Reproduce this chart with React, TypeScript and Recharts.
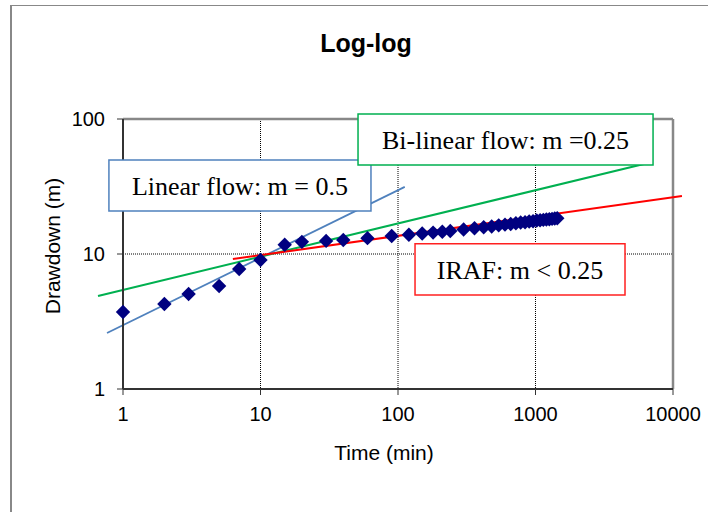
import { ComposedChart, Scatter, XAxis, YAxis, CartesianGrid, ReferenceLine, ReferenceArea } from 'recharts';

// Pumping test drawdown data (time in minutes, drawdown in metres)
const times = [1, 2, 3, 5, 7, 10, 15, 20, 30, 40, 60, 90,
  120, 150, 180, 210, 240, 300, 360, 420, 480, 540, 600, 660, 720, 780, 840, 900, 960, 1020, 1080, 1140, 1200, 1260, 1320, 1380, 1440];
const drawdowns = [3.72, 4.26, 5.05, 5.79, 7.74, 9.03, 11.7, 12.3, 12.5, 12.7, 13.1, 13.6,
  13.9, 14.2, 14.4, 14.6, 14.8, 15.2, 15.5, 15.8, 16.0, 16.3, 16.5, 16.7, 16.9, 17.1, 17.2, 17.4, 17.5, 17.7, 17.8, 17.9, 18.0, 18.1, 18.2, 18.3, 18.4];

const timeTicks = [1, 10, 100, 1000, 10000];
const drawdownTicks = [1, 10, 100];

// hand-drawn slope lines: [start, end] as (time, drawdown)
const linearLine = [{ x: 0.765, y: 2.6 }, { x: 112, y: 31.4 }];
const bilinearLine = [{ x: 0.658, y: 4.89 }, { x: 6580, y: 47.2 }];
const irafLine = [{ x: 6.3, y: 9.18 }, { x: 11620, y: 26.9 }];

const noteLabels = ['Linear flow: m = 0.5', 'Bi-linear flow: m =0.25', 'IRAF: m < 0.25'];
const noteColors = ['#4F81BD', '#00B050', '#FF2020'];
// box extents in data units: [t1, t2, s1, s2]
const noteBoxes = [[0.79, 63.6, 20.8, 49.7], [51.2, 7160, 45.6, 108.9], [133, 4477, 4.97, 11.9]];

const points = times.map((t, i) => ({ t, s: drawdowns[i] }));

const Diamond = (props: any) => {
  const { cx, cy } = props;
  const r = 7.2;
  return <polygon points={`${cx},${cy - r} ${cx + r},${cy} ${cx},${cy + r} ${cx - r},${cy}`} fill="#000080" />;
};

const sans = '"Liberation Sans", Arial, sans-serif';
const serif = '"Liberation Serif", "Times New Roman", serif';

export default function App() {
  return (
    <div style={{ position: 'absolute', left: 0, top: 0, width: 708, height: 512, overflow: 'hidden', background: '#fff', fontFamily: sans }}>
      <div style={{ position: 'absolute', left: 10, top: 5, width: 720, height: 520, borderLeft: '2px solid #888', borderTop: '1px solid #888' }} />
      <div style={{ position: 'absolute', left: 266, top: 29, width: 200, textAlign: 'center', fontSize: 25, fontWeight: 'bold', lineHeight: 'normal' }}>Log-log</div>
      <div style={{ position: 'absolute', left: 284, top: 441, width: 200, textAlign: 'center', fontSize: 21, lineHeight: 'normal' }}>Time (min)</div>
      <div style={{ position: 'absolute', left: -47, top: 234, width: 200, textAlign: 'center', fontSize: 21, lineHeight: 'normal', transform: 'rotate(-90deg)' }}>Drawdown (m)</div>
      <ComposedChart width={708} height={512} data={points} margin={{ top: 119, right: 35, bottom: 43, left: 23 }} style={{ position: 'absolute', left: 0, top: 0 }}>
        <CartesianGrid stroke="#000" strokeDasharray="1 1" />
        <XAxis dataKey="t" type="number" scale="log" domain={[1, 10000]} ticks={timeTicks} height={80}
          tick={{ fontSize: 20, fill: '#000', fontFamily: sans }} tickSize={6} tickMargin={12}
          axisLine={{ stroke: '#333', strokeWidth: 2 }} tickLine={{ stroke: '#333' }} />
        <YAxis dataKey="s" type="number" scale="log" domain={[1, 100]} ticks={drawdownTicks} width={100}
          tick={{ fontSize: 20, fill: '#000', fontFamily: sans }} tickSize={6} tickMargin={12}
          axisLine={{ stroke: '#333', strokeWidth: 2 }} tickLine={{ stroke: '#333' }} />
        <ReferenceLine y={100} stroke="#888" strokeWidth={2.5} />
        <ReferenceLine x={10000} stroke="#888" strokeWidth={2.5} />
        <ReferenceLine segment={linearLine} stroke="#4F81BD" strokeWidth={1.8} ifOverflow="visible" />
        <ReferenceLine segment={bilinearLine} stroke="#00B050" strokeWidth={2} ifOverflow="visible" />
        <ReferenceLine segment={irafLine} stroke="#FF0000" strokeWidth={2} ifOverflow="visible" />
        <Scatter dataKey="s" shape={<Diamond />} isAnimationActive={false} />
        {noteBoxes.map((b, i) => (
          <ReferenceArea key={i} x1={b[0]} x2={b[1]} y1={b[2]} y2={b[3]} ifOverflow="visible" zIndex={700}
            fill="#fff" fillOpacity={1} stroke={noteColors[i]} strokeWidth={1.5}
            label={{ value: noteLabels[i], position: 'center', fontSize: 26, fontFamily: serif, fill: '#000' }} />
        ))}
      </ComposedChart>
    </div>
  );
}
